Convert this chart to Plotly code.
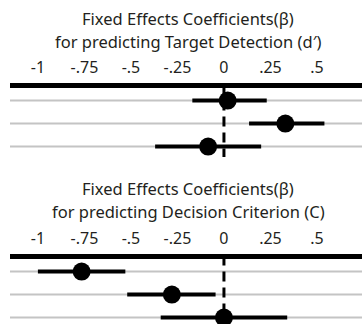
import plotly.graph_objects as go

# ---- data ----
tick_vals = [-1, -0.75, -0.5, -0.25, 0, 0.25, 0.5]
tick_text = ["-1", "-.75", "-.5", "-.25", "0", ".25", ".5"]

rows = [1, 2, 3]

d_beta = [0.02, 0.33, -0.085]
d_low = [-0.17, 0.135, -0.37]
d_high = [0.23, 0.54, 0.20]

c_beta = [-0.765, -0.28, 0.0]
c_low = [-1.0, -0.52, -0.34]
c_high = [-0.53, -0.045, 0.34]

titles_top = ["Fixed Effects Coefficients(\u03b2)", "for predicting Target Detection (d\u2032)"]
titles_bot = ["Fixed Effects Coefficients(\u03b2)", "for predicting Decision Criterion (C)"]

W, H = 362, 324
FONT = "Noto Sans"
TXT = "#231f20"

fig = go.Figure()

def add_panel(beta, low, high, xa, ya):
    fig.add_trace(go.Scatter(
        x=beta, y=rows, mode="markers",
        marker=dict(size=18, color="black"),
        error_x=dict(type="data", symmetric=False,
                     array=[h - b for h, b in zip(high, beta)],
                     arrayminus=[b - l for l, b in zip(low, beta)],
                     thickness=4, width=0, color="black"),
        xaxis=xa, yaxis=ya, showlegend=False, hoverinfo="skip",
        cliponaxis=False,
    ))

add_panel(d_beta, d_low, d_high, "x", "y")
add_panel(c_beta, c_low, c_high, "x2", "y2")

xdom = [10 / W, 1]
xr = [-1.15, 0.742]

def px(y):
    return (H - y) / H

top_line = 84.5
bot_line = 255.5
unit = 23.0
line_val = 0.3

top_dom_top = top_line - 0.4 * unit
top_dom_bot = 157
top_range_max = (top_dom_bot - top_line) / unit + line_val
bot_dom_top = bot_line - 0.4 * unit
bot_range_max = (H - bot_line) / unit + line_val

axis_common = dict(range=xr, tickmode="array", tickvals=tick_vals, ticktext=tick_text,
                   side="top", showgrid=False, zeroline=False, showline=True,
                   linecolor="black", linewidth=4.5, ticks="outside", ticklen=3,
                   tickcolor="rgba(0,0,0,0)",
                   tickfont=dict(family=FONT, size=16, color=TXT), domain=xdom,
                   anchor="free")

fig.update_layout(
    width=W, height=H, margin=dict(l=0, r=0, t=0, b=0),
    paper_bgcolor="white", plot_bgcolor="white",
    xaxis=dict(**axis_common, position=px(top_line)),
    xaxis2=dict(**axis_common, position=px(bot_line)),
    yaxis=dict(range=[top_range_max, -0.1], domain=[px(top_dom_bot), px(top_dom_top)],
               visible=False, anchor="x"),
    yaxis2=dict(range=[bot_range_max, -0.1], domain=[0, px(bot_dom_top)],
                visible=False, anchor="x2"),
)

shapes = []
for xa, ya, ymax in [("x", "y", top_range_max), ("x2", "y2", bot_range_max)]:
    for r in rows:
        shapes.append(dict(type="line", xref=xa + " domain", yref=ya, x0=0, x1=1, y0=r, y1=r,
                           line=dict(color="#c4c4c4", width=2), layer="below"))
    shapes.append(dict(type="line", xref=xa, yref=ya, x0=0, x1=0, y0=line_val, y1=ymax,
                       line=dict(color="black", width=3, dash="10px,6px"), layer="above"))
fig.update_layout(shapes=shapes)

ann = []
for text, y in [(titles_top[0], 18), (titles_top[1], 41.5), (titles_bot[0], 188), (titles_bot[1], 211.5)]:
    ann.append(dict(text=text, x=188 / W, y=px(y), xref="paper", yref="paper",
                    xanchor="center", yanchor="middle", showarrow=False,
                    font=dict(family=FONT, size=16.5, color=TXT)))
fig.update_layout(annotations=ann)

fig.write_html("out.html", config={"displayModeBar": False},
               post_script="document.body.style.margin='0px';document.body.style.overflow='hidden';")
